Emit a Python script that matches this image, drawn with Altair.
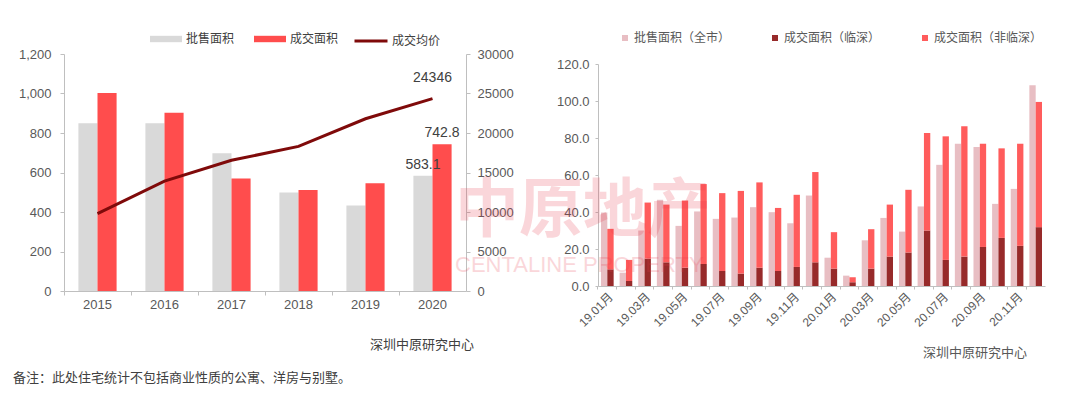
import altair as alt
import pandas as pd

# ---------------- data: left panel ----------------
years = ["2015", "2016", "2017", "2018", "2019", "2020"]
bar_series = ["批售面积", "成交面积"]
pishou = [850, 850, 697, 499, 433, 583.1]
chengjiao = [1003, 902, 569, 511, 545, 742.8]
price = [9800, 13900, 16550, 18300, 21800, 24346]
line_name = "成交均价"

# ---------------- data: right panel ----------------
months = ["19.01月", "19.02月", "19.03月", "19.04月", "19.05月", "19.06月",
          "19.07月", "19.08月", "19.09月", "19.10月", "19.11月", "19.12月",
          "20.01月", "20.02月", "20.03月", "20.04月", "20.05月", "20.06月",
          "20.07月", "20.08月", "20.09月", "20.10月", "20.11月", "20.12月"]
r_series = ["批售面积（全市）", "成交面积（临深）", "成交面积（非临深）"]
pifa_all = [39.7, 7.2, 30.0, 46.6, 32.5, 40.3, 36.3, 37.0, 42.6, 39.9, 33.9, 48.9,
            15.3, 5.6, 24.7, 36.8, 29.4, 43.0, 65.5, 76.9, 75.1, 44.4, 52.5, 108.5]
deal_linshen = [9.0, 2.7, 14.8, 12.8, 9.9, 11.9, 8.1, 6.7, 9.9, 8.1, 10.3, 12.8,
                9.4, 2.0, 9.4, 15.9, 18.1, 30.0, 14.1, 15.9, 21.1, 26.0, 21.7, 31.8]
deal_feilinshen = [21.9, 11.4, 30.3, 31.2, 36.3, 43.2, 42.1, 44.7, 46.1, 34.1, 39.0, 48.8,
                   19.7, 2.7, 21.3, 28.1, 33.9, 52.7, 66.8, 70.4, 55.8, 48.4, 55.2, 67.7]

# ---------------- styling ----------------
FONT = "Liberation Sans, Noto Sans CJK SC, sans-serif"
CJK = "Noto Sans CJK SC, sans-serif"
GREY = "#D9D9D9"
RED = "#FF4D4D"
LINE = "#7F0A0A"
PINK = "#E8BEC3"
DARK = "#972A2A"
RED2 = "#FF5C5C"
AXC = "#BFBFBF"
LAB = "#595959"

WL, HL = 402, 237
WR, HR = 447, 222
TOP_GAP = 10

# ---------------- left panel ----------------
rows = []
for i, y in enumerate(years):
    rows.append({"year": y, "bser": bar_series[0], "area": pishou[i]})
    rows.append({"year": y, "bser": bar_series[1], "area": chengjiao[i]})
df_bar = pd.DataFrame(rows)
df_line = pd.DataFrame({"year": years, "price": price, "lname": line_name})
df_years = pd.DataFrame({"year": years})
one = pd.DataFrame({"k": [0]})

PI_L = 0.43
xsc_l = alt.Scale(paddingInner=PI_L, paddingOuter=PI_L / 2)
ysc_l = alt.Scale(domain=[0, 1200])
ysc_p = alt.Scale(domain=[0, 30000])

bars = alt.Chart(df_bar).mark_bar().encode(
    x=alt.X("year:N", scale=xsc_l, sort=years,
            axis=alt.Axis(orient="bottom", ticks=False, labelAngle=0, labelPadding=7,
                          labelFontSize=13, title=None)),
    xOffset=alt.XOffset("bser:N", sort=bar_series, scale=alt.Scale(domain=bar_series)),
    y=alt.Y("area:Q", scale=ysc_l,
            axis=alt.Axis(orient="left", values=list(range(0, 1201, 200)), format=",d",
                          tickSize=4, labelPadding=9, title=None)),
    fill=alt.Fill("bser:N", scale=alt.Scale(domain=bar_series, range=[GREY, RED]),
                  legend=alt.Legend(orient="none", legendX=86, legendY=-31, direction="horizontal",
                                    title=None, symbolType="M-1,-0.2H1V0.2H-1Z", symbolSize=1024,
                                    symbolStrokeWidth=0, columnPadding=19, labelOffset=4,
                                    labelFont=CJK, labelFontSize=12, labelColor="#404040")),
)

bar_labels = alt.Chart(df_bar).transform_filter(alt.datum.year == "2020").mark_text(
    baseline="bottom", dy=-4, font=FONT, fontSize=14, color="#404040"
).encode(
    x=alt.X("year:N", scale=xsc_l, sort=years, axis=None),
    xOffset=alt.XOffset("bser:N", sort=bar_series, scale=alt.Scale(domain=bar_series)),
    y=alt.Y("area:Q", scale=ysc_l, axis=None),
    text=alt.Text("area:Q", format=".1f"),
)

tick_axis_l = alt.Chart(df_years).mark_point(opacity=0).encode(
    x=alt.X("year:N", scale=xsc_l, sort=years,
            axis=alt.Axis(orient="bottom", labels=False, domain=False, ticks=True, tickSize=4,
                          bandPosition=-(PI_L / 2) / (1 - PI_L), title=None)),
    y=alt.value(0),
)

line = alt.Chart(df_line).mark_line(strokeWidth=3).encode(
    x=alt.X("year:N", scale=xsc_l, sort=years, axis=None),
    y=alt.Y("price:Q", scale=ysc_p,
            axis=alt.Axis(orient="right", values=list(range(0, 30001, 5000)), format="d",
                          tickSize=4, labelPadding=7, title=None)),
    stroke=alt.Stroke("lname:N", scale=alt.Scale(domain=[line_name], range=[LINE]),
                      legend=alt.Legend(orient="none", legendX=289, legendY=-31, direction="horizontal",
                                        title=None, symbolType="stroke", symbolSize=1089,
                                        symbolStrokeWidth=3, labelOffset=3,
                                        labelFont=CJK, labelFontSize=12, labelColor="#404040")),
)

line_label = alt.Chart(df_line).transform_filter(alt.datum.year == "2020").mark_text(
    baseline="bottom", dy=-14, font=FONT, fontSize=14, color="#404040"
).encode(
    x=alt.X("year:N", scale=xsc_l, sort=years, axis=None),
    y=alt.Y("price:Q", scale=ysc_p, axis=None),
    text=alt.Text("price:Q", format="d"),
)

src_l = alt.Chart(one).mark_text(text="深圳中原研究中心", align="left", baseline="middle",
                                 font=CJK, fontSize=13, color="#404040").encode(
    x=alt.value(306), y=alt.value(291))
note = alt.Chart(one).mark_text(text="备注：此处住宅统计不包括商业性质的公寓、洋房与别墅。",
                                align="left", baseline="middle", font=CJK, fontSize=13,
                                color="#404040").encode(x=alt.value(-51), y=alt.value(324))

left = alt.layer(bars, bar_labels, tick_axis_l, line, line_label, src_l, note).resolve_scale(
    y="independent").resolve_axis(x="independent").properties(width=WL, height=HL)

# ---------------- right panel ----------------
rrows = []
for i, m in enumerate(months):
    rrows.append({"month": m, "grp": "A", "rser": r_series[0], "rv": pifa_all[i], "ord": 0})
    rrows.append({"month": m, "grp": "B", "rser": r_series[1], "rv": deal_linshen[i], "ord": 1})
    rrows.append({"month": m, "grp": "B", "rser": r_series[2], "rv": deal_feilinshen[i], "ord": 2})
df_r = pd.DataFrame(rrows)
df_months = pd.DataFrame({"month": months})

PI_R = 0.32
xsc_r = alt.Scale(paddingInner=PI_R, paddingOuter=PI_R / 2)
ysc_r = alt.Scale(domain=[0, 120])

rbars = alt.Chart(df_r).transform_stack(
    stack="rv", as_=["ry0", "ry1"], groupby=["month", "grp"],
    sort=[alt.SortField("ord", order="ascending")]
).mark_bar().encode(
    x=alt.X("month:N", scale=xsc_r, sort=months,
            axis=alt.Axis(orient="bottom", values=months[::2], ticks=False, labelAngle=-45,
                          labelFontSize=12, labelPadding=5, title=None)),
    xOffset=alt.XOffset("grp:N", sort=["A", "B"], scale=alt.Scale(domain=["A", "B"])),
    y=alt.Y("ry1:Q", scale=ysc_r,
            axis=alt.Axis(orient="left", values=list(range(0, 121, 20)), format=".1f",
                          tickSize=3, labelPadding=6, title=None)),
    y2="ry0:Q",
    fill=alt.Fill("rser:N", scale=alt.Scale(domain=r_series, range=[PINK, DARK, RED2]),
                  legend=alt.Legend(orient="none", legendX=21, legendY=-22,
                                    direction="horizontal",
                                    title=None, symbolType="square", symbolSize=36,
                                    symbolStrokeWidth=0, columnPadding=38, labelOffset=3,
                                    labelFont=CJK, labelFontSize=12, labelColor="#595959")),
)

tick_axis_r = alt.Chart(df_months).mark_point(opacity=0).encode(
    x=alt.X("month:N", scale=xsc_r, sort=months,
            axis=alt.Axis(orient="bottom", labels=False, domain=False, ticks=True, tickSize=3,
                          bandPosition=-(PI_R / 2) / (1 - PI_R), title=None)),
    y=alt.value(0),
)

wm1 = alt.Chart(one).mark_text(text="中原地产", align="left", baseline="middle", font=CJK,
                               fontSize=64, fontWeight="bold", color="#E8394A", opacity=0.2).encode(
    x=alt.value(-143), y=alt.value(158 - TOP_GAP))
wm2 = alt.Chart(one).mark_text(text="CENTALINE PROPERTY", align="left", baseline="middle",
                               font=FONT, fontSize=22, color="#E8394A", opacity=0.2).encode(
    x=alt.value(-143), y=alt.value(211 - TOP_GAP))
src_r = alt.Chart(one).mark_text(text="深圳中原研究中心", align="left", baseline="middle",
                                 font=CJK, fontSize=13, color="#595959").encode(
    x=alt.value(325), y=alt.value(299 - TOP_GAP))

right_layer = alt.layer(rbars, tick_axis_r, src_r, wm1, wm2).resolve_axis(
    x="independent").properties(width=WR, height=HR)

spacer = alt.Chart(one).mark_point(opacity=0).encode(
    x=alt.value(0), y=alt.value(0)).properties(width=WR, height=1)
right = alt.vconcat(spacer, right_layer, spacing=TOP_GAP - 1, bounds="flush")

chart = alt.hconcat(left, right, spacing=132, bounds="flush").resolve_scale(
    x="independent", y="independent", xOffset="independent", fill="independent",
    stroke="independent"
).resolve_legend(fill="independent", stroke="independent").properties(
    padding={"left": 5, "top": 15, "right": 5, "bottom": 5}
).configure_view(stroke=None).configure_axis(
    labelFont=FONT, labelColor=LAB, labelFontSize=13, domainColor=AXC, tickColor=AXC,
    grid=False, domainWidth=1
).configure_legend(labelFont=CJK)

chart.save("out.html", embed_options={"renderer": "svg", "actions": False})
